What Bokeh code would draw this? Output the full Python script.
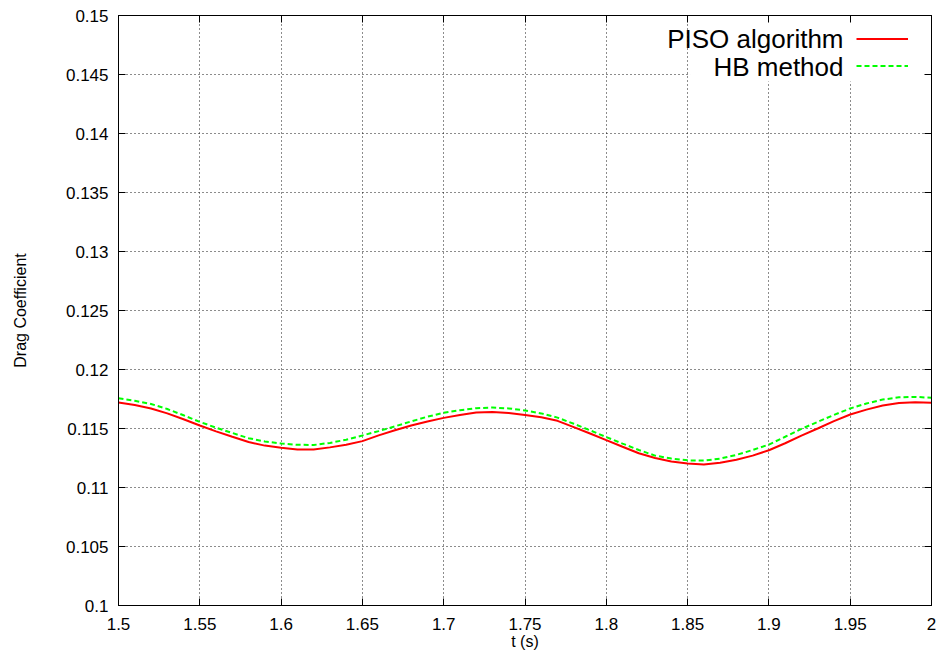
from bokeh.plotting import figure
from bokeh.models import (FixedTicker, LinearAxis, Legend, LegendItem, Label,
                          BoxAnnotation, Range1d)
from bokeh.embed import file_html
from bokeh.resources import INLINE

# ---------------- data ----------------
t = [1.50, 1.51, 1.52, 1.53, 1.54, 1.55, 1.56, 1.57, 1.58, 1.59,
     1.60, 1.61, 1.62, 1.63, 1.64, 1.65, 1.66, 1.67, 1.68, 1.69,
     1.70, 1.71, 1.72, 1.73, 1.74, 1.75, 1.76, 1.77, 1.78, 1.79,
     1.80, 1.81, 1.82, 1.83, 1.84, 1.85, 1.86, 1.87, 1.88, 1.89,
     1.90, 1.91, 1.92, 1.93, 1.94, 1.95, 1.96, 1.97, 1.98, 1.99, 2.00]

piso = [0.11720, 0.11700, 0.11670, 0.11628, 0.11578, 0.11525, 0.11476, 0.11430, 0.11385, 0.11355,
        0.11336, 0.11323, 0.11322, 0.11340, 0.11362, 0.11393, 0.11442, 0.11485, 0.11525, 0.11560,
        0.11590, 0.11615, 0.11635, 0.11640, 0.11632, 0.11615, 0.11595, 0.11565, 0.11512, 0.11458,
        0.11401, 0.11345, 0.11290, 0.11250, 0.11220, 0.11203, 0.11195, 0.11210, 0.11235, 0.11270,
        0.11316, 0.11375, 0.11440, 0.11500, 0.11562, 0.11619, 0.11660, 0.11695, 0.11716, 0.11723, 0.11718]

hb = [0.11756, 0.11735, 0.11708, 0.11665, 0.11612, 0.11556, 0.11507, 0.11462, 0.11418, 0.11390,
      0.11373, 0.11362, 0.11360, 0.11378, 0.11405, 0.11441, 0.11478, 0.11518, 0.11560, 0.11600,
      0.11633, 0.11655, 0.11672, 0.11678, 0.11670, 0.11653, 0.11628, 0.11592, 0.11540, 0.11485,
      0.11427, 0.11372, 0.11318, 0.11270, 0.11245, 0.11230, 0.11228, 0.11245, 0.11276, 0.11318,
      0.11364, 0.11430, 0.11497, 0.11556, 0.11615, 0.11670, 0.11712, 0.11745, 0.11764, 0.11768, 0.11760]

x_ticks = [1.5, 1.55, 1.6, 1.65, 1.7, 1.75, 1.8, 1.85, 1.9, 1.95, 2.0]
x_tick_labels = ["1.5", "1.55", "1.6", "1.65", "1.7", "1.75", "1.8", "1.85", "1.9", "1.95", "2"]
y_ticks = [0.1, 0.105, 0.11, 0.115, 0.12, 0.125, 0.13, 0.135, 0.14, 0.145, 0.15]
y_tick_labels = ["0.1", "0.105", "0.11", "0.115", "0.12", "0.125", "0.13", "0.135", "0.14", "0.145", "0.15"]

series_names = ["PISO algorithm", "HB method"]
x_title = "t (s)"
y_title = "Drag Coefficient"

FONT = "Liberation Sans"

p = figure(width=940, height=664, output_backend="svg", toolbar_location=None,
           x_range=Range1d(1.5, 2.0), y_range=Range1d(0.1, 0.15),
           x_axis_label=x_title, y_axis_label=y_title)
p.min_border_left = 118
p.min_border_right = 9
p.min_border_top = 15
p.min_border_bottom = 59
p.background_fill_color = "white"
p.border_fill_color = "white"
p.outline_line_color = "black"
p.outline_line_width = 1

xt = FixedTicker(ticks=x_ticks)
yt = FixedTicker(ticks=y_ticks)

for ax, ticker, labels in ((p.xaxis[0], xt, x_tick_labels), (p.yaxis[0], yt, y_tick_labels)):
    ax.ticker = ticker
    ax.major_label_overrides = dict(zip(ticker.ticks, labels))
    ax.major_tick_in = 7
    ax.major_tick_out = 0
    ax.minor_tick_line_color = None
    ax.axis_line_color = "black"
    ax.major_tick_line_color = "black"
    ax.major_label_text_font = FONT
    ax.major_label_text_font_size = "17px"
    ax.major_label_text_color = "black"
    ax.axis_label_text_font = FONT
    ax.axis_label_text_font_size = "16px"
    ax.axis_label_text_font_style = "normal"
    ax.axis_label_text_color = "black"

p.xaxis[0].major_label_standoff = 12
p.xaxis[0].axis_label_standoff = 0
p.yaxis[0].major_label_standoff = 10
p.yaxis[0].axis_label_standoff = 34

# mirrored axes (ticks only) on top and right
top = LinearAxis(ticker=xt, major_tick_in=7, major_tick_out=0, minor_tick_line_color=None,
                 major_label_text_font_size="1px", major_label_text_color=None,
                 major_label_standoff=0,
                 axis_line_color="black", major_tick_line_color="black")
right = LinearAxis(ticker=yt, major_tick_in=7, major_tick_out=0, minor_tick_line_color=None,
                   major_label_text_font_size="1px", major_label_text_color=None,
                   major_label_standoff=0,
                   axis_line_color="black", major_tick_line_color="black")
p.add_layout(top, "above")
p.add_layout(right, "right")

for g, ticker in ((p.xgrid[0], xt), (p.ygrid[0], yt)):
    g.ticker = ticker
    g.grid_line_color = "black"
    g.grid_line_alpha = 0.9
    g.grid_line_dash = "1 3"
    g.grid_line_width = 1

# blank key area like gnuplot
key_box = BoxAnnotation(left=1.8515, right=2.0, top=0.15, bottom=0.1444,
                        fill_color="white", fill_alpha=1.0, line_color=None, level="glyph")
p.add_layout(key_box)

r1 = p.line(t, piso, line_color="#ff0000", line_width=2)
r2 = p.line(t, hb, line_color="#00ff00", line_width=2, line_dash="5 3")

legend = Legend(items=[LegendItem(label=" ", renderers=[r1]),
                       LegendItem(label=" ", renderers=[r2])],
                location=(738, 526), glyph_width=52, glyph_height=27,
                label_height=27, label_width=0, label_standoff=0,
                padding=0, margin=0, spacing=0,
                border_line_color=None, background_fill_alpha=0,
                label_text_font_size="1px", label_text_color=None)
p.add_layout(legend)

for name, ysc in zip(series_names, (567, 539)):
    p.add_layout(Label(x=725, y=ysc, x_units="screen", y_units="screen", text=name,
                       text_align="right", text_baseline="middle",
                       text_font=FONT, text_font_size="26px", text_color="black"))

open("out.html", "w").write(file_html(p, INLINE))
